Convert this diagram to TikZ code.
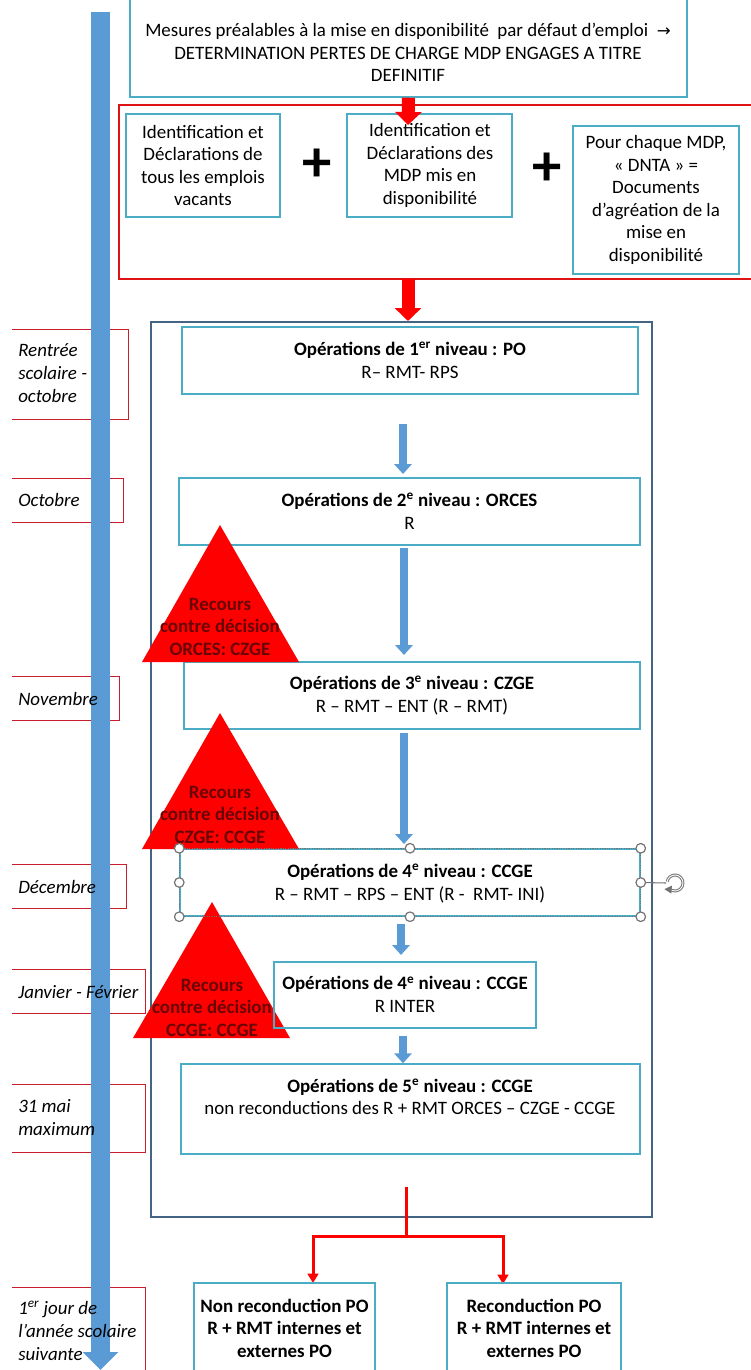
\documentclass[tikz,border=0pt]{standalone}
\usepackage{fontspec}
\setmainfont{Carlito}
\newfontfamily\symf{DejaVu Sans}
\usetikzlibrary{arrows.meta,fit,calc}
\definecolor{cy}{RGB}{75,172,198}
\definecolor{frameblue}{RGB}{68,100,132}
\definecolor{bb}{RGB}{91,155,213}
\definecolor{redbox}{RGB}{222,20,20}
\definecolor{lblred}{RGB}{200,30,45}
\definecolor{tritxt}{RGB}{105,5,5}
\definecolor{hgray}{RGB}{115,115,115}
\begin{document}
\begin{tikzpicture}[x=0.75pt,y=-0.75pt,
  box/.style={draw=cy, line width=1.1pt, inner sep=0pt},
  grpbox/.style={draw=redbox, line width=1.1pt, inner sep=0pt},
  outerbox/.style={draw=frameblue, line width=1.4pt, inner sep=0pt},
  txt/.style={font=\fontsize{14.2}{16.9}\selectfont, align=center, inner sep=0pt},
  btxt/.style={font=\fontsize{14.2}{16.9}\selectfont\bfseries, align=center, inner sep=0pt},
  lbl/.style={font=\fontsize{14.2}{17.2}\selectfont\itshape, align=left, anchor=west, inner sep=0pt},
  lblline/.style={draw=lblred, line width=0.75pt},
  trifill/.style={fill=red, draw=none},
  tritext/.style={font=\fontsize{14.2}{16.9}\selectfont\bfseries, text=tritxt, align=center, inner sep=0pt},
  barrow/.style={draw=bb, line width=6pt, -{Triangle[width=13pt,length=7.5pt]}},
  rarrow/.style={draw=red, line width=9.75pt, -{Triangle[width=19.5pt,length=9.75pt]}},
  timebar/.style={draw=bb, line width=14.25pt, -{Triangle[width=26pt,length=13.5pt]}},
  rline/.style={draw=red, line width=2.25pt},
  rtip/.style={rline, -{Triangle[width=8pt,length=7pt]}},
  handle/.style={draw=hgray, fill=white, line width=0.9pt},
  plussign/.style={font=\fontsize{44}{44}\selectfont\bfseries, inner sep=0pt}
]
\useasboundingbox (0,0) rectangle (750,1370);

% ---------- time line labels (frames) ----------
\draw[lblline] (12,329) -| (128,419) -- (12,419);
\draw[lblline] (12,478) -| (123,522) -- (12,522);
\draw[lblline] (12,676) -| (119,720) -- (12,720);
\draw[lblline] (12,864) -| (126,908) -- (12,908);
\draw[lblline] (12,969) -| (145,1013) -- (12,1013);
\draw[lblline] (12,1084) -| (145,1152) -- (12,1152);
\draw[lblline] (12,1287) -| (145,1390);

% ---------- time bar ----------
\coordinate (barTop) at (100.5,12);
\coordinate (barEnd) at (100.5,1370);
\draw[timebar] (barTop) -- (barEnd);

% ---------- time labels ----------
\node[lbl] (l1) at (18,373.5) {Rentrée\\scolaire -\\octobre};
\node[lbl] (l2) at (18,500) {Octobre};
\node[lbl] (l3) at (18,699) {Novembre};
\node[lbl] (l4) at (18,887) {Décembre};
\node[lbl] (l5) at (18,992) {Janvier - Février};
\node[lbl] (l6) at (18,1117.5) {31 mai\\maximum};
\node[lbl] (l7) at (18,1331) {1\textsuperscript{er} jour de\\l’année scolaire\\suivante};

% ---------- top part ----------
\node[box, fit={(130,-20) (687,97)}] (top) {};
\node[txt] (topT) at (408,52.5) {Mesures préalables à la mise en disponibilité~ par défaut d’emploi~ {\symf\fontsize{12.5}{16.9}\selectfont →}\\DETERMINATION PERTES DE CHARGE MDP ENGAGES A TITRE\\DEFINITIF};

\node[grpbox, fit={(119,105) (770,279)}] (grp) {};
\node[box, fit={(126,114) (280,217)}] (bA) {};
\node[txt] (bAT) at (203,165.5) {Identification et\\Déclarations de\\tous les emplois\\vacants};
\node[plussign] (plus1) at (317,165) {+};
\node[box, fit={(347,114) (512,217)}] (bB) {};
\node[txt] (bBT) at (430,165.5) {Identification et\\Déclarations des\\MDP mis en\\disponibilité};
\node[plussign] (plus2) at (547,169) {+};
\node[box, fit={(573,126) (739,274)}] (bC) {};
\node[txt] (bCT) at (656,200) {Pour chaque MDP,\\« DNTA » =\\Documents\\d’agréation de la\\mise en\\disponibilité};

\coordinate (ra1e) at (408,125);
\draw[rarrow] (top.south) -- (ra1e);
\coordinate (ra2s) at (408,279);
\coordinate (ra2e) at (408,321);
\draw[rarrow] (ra2s) -- (ra2e);

% ---------- frame ----------
\node[outerbox, fit={(151,322) (652,1217)}] (frame) {};

% ---------- operation boxes ----------
\node[box, fit={(182,327) (638,394)}] (po) {};
\node[txt] (poT) at (410,360.5) {\textbf{Opérations de 1\textsuperscript{er} niveau : PO}\\R– RMT- RPS};
\node[box, fit={(179,478) (640,545)}] (orces) {};
\node[txt] (orcesT) at (409.5,511) {\textbf{Opérations de 2\textsuperscript{e} niveau : ORCES}\\R};
\node[box, fit={(184,662) (640,729)}] (czge) {};
\node[txt] (czgeT) at (412,695.5) {\textbf{Opérations de 3\textsuperscript{e} niveau : CZGE}\\R – RMT – ENT (R – RMT)};
\node[box, fit={(180,849) (640,916)}] (ccge) {};
\node[txt] (ccgeT) at (410,883.5) {\textbf{Opérations de 4\textsuperscript{e} niveau : CCGE}\\R – RMT – RPS – ENT (R -~ RMT- INI)};
\node[txt] (interT) at (405,994.5) {\textbf{Opérations de 4\textsuperscript{e} niveau : CCGE}\\R INTER};
\node[box, fit={(181,1064) (640,1154)}] (five) {};
\node[txt] (fiveT) at (410,1097) {\textbf{Opérations de 5\textsuperscript{e} niveau : CCGE}\\non reconductions des R + RMT ORCES – CZGE - CCGE};

% ---------- blue arrows ----------
\coordinate (a1s) at (403,424); \coordinate (a1e) at (403,474);
\coordinate (a2s) at (404,548); \coordinate (a2e) at (404,655);
\coordinate (a3s) at (404,733); \coordinate (a3e) at (404,844);
\coordinate (a4s) at (401,924); \coordinate (a4e) at (401,955);
\coordinate (a5s) at (403,1036);
\draw[barrow] (a1s) -- (a1e);
\draw[barrow] (a2s) -- (a2e);
\draw[barrow] (a3s) -- (a3e);
\draw[barrow] (a4s) -- (a4e);
\draw[barrow] (a5s) -- (five.north -| a5s);

% ---------- triangles ----------
\fill[trifill] (220,525) -- (299,662) -- (142,662) -- cycle;
\fill[trifill] (220,713) -- (299,849) -- (142,849) -- cycle;
\fill[trifill] (212,902) -- (290,1038) -- (133,1038) -- cycle;
\node[box, fit={(274,962) (536,1028)}] (inter) {};
\node[tritext] (t1) at (220,626.5) {Recours\\contre décision\\ORCES: CZGE};
\node[tritext] (t2) at (220,814.5) {Recours\\contre décision\\CZGE: CCGE};
\node[tritext] (t3) at (212,1007.5) {Recours\\contre décision\\CCGE: CCGE};

% ---------- selection handles ----------
\draw[hgray, densely dotted, line width=0.8pt] (ccge.north west) rectangle (ccge.south east);
\coordinate (rot) at (675,883);
\draw[hgray, line width=0.8pt] (ccge.east) -- (666,883);
\foreach \p in {north west, north, north east, west, east, south west, south, south east}
  \draw[handle] (ccge.\p) circle[radius=4.8];
\begin{scope}[shift={(rot)}, x=0.75pt, y=0.75pt]
  \draw[hgray, line width=2.2pt] (-140:8) arc[start angle=-140, end angle=170, radius=8];
  \draw[white, line width=0.7pt] (-140:8) arc[start angle=-140, end angle=170, radius=8];
  \fill[hgray] (-140:8) ++(-4.5,-1) -- ++(7,-4.5) -- ++(0.5,8) -- cycle;
\end{scope}

% ---------- bottom ----------
\coordinate (j0) at (406,1187);
\coordinate (j1) at (406,1236);
\coordinate (jl) at (313,1283);
\coordinate (jr) at (503,1284);
\draw[rline] (j0) -- (j1);
\draw[rtip] (j1) -| (jl);
\draw[rtip] (j1) -| (jr);

\node[box, fit={(194,1283) (375,1400)}] (nl) {};
\node[btxt] (nlT) at (284.5,1328) {Non reconduction PO\\R + RMT internes et\\externes PO};
\node[box, fit={(447,1283) (621,1400)}] (nr) {};
\node[btxt] (nrT) at (534,1328) {Reconduction PO\\R + RMT internes et\\externes PO};
\end{tikzpicture}
\end{document}
